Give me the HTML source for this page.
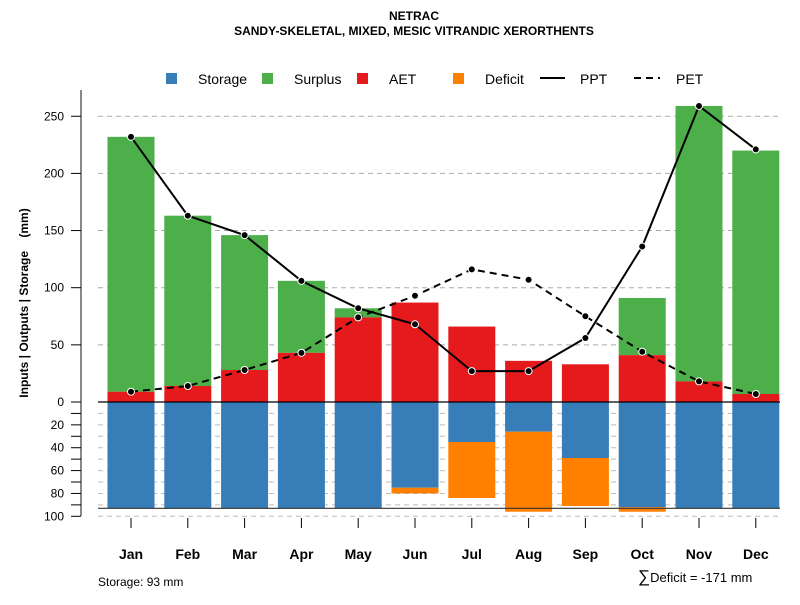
<!DOCTYPE html>
<html><head><meta charset="utf-8"><style>
body{margin:0;background:#fff;font-family:"Liberation Sans",sans-serif}
svg text{font-family:"Liberation Sans",sans-serif}
</style></head><body>
<svg id="chart" width="800" height="600" xmlns="http://www.w3.org/2000/svg">
<text x="414" y="20" text-anchor="middle" font-size="12" font-weight="bold">NETRAC</text>
<text x="414" y="35" text-anchor="middle" font-size="12" font-weight="bold">SANDY-SKELETAL, MIXED, MESIC VITRANDIC XERORTHENTS</text>
<g id="grid"></g><g id="bars"></g><g id="lines"></g><g id="axes"></g>
<g font-size="14">
<rect x="166" y="73" width="11" height="11" fill="#377eb8"/><text x="198" y="84">Storage</text>
<rect x="262" y="73" width="11" height="11" fill="#4daf4a"/><text x="294" y="84">Surplus</text>
<rect x="357" y="73" width="11" height="11" fill="#e41a1c"/><text x="389" y="84">AET</text>
<rect x="453" y="73" width="11" height="11" fill="#ff7f00"/><text x="485" y="84">Deficit</text>
<line x1="540" y1="78" x2="565" y2="78" stroke="#000" stroke-width="2"/><text x="580" y="84">PPT</text>
<line x1="634" y1="78" x2="660" y2="78" stroke="#000" stroke-width="2" stroke-dasharray="7,5"/><text x="676" y="84">PET</text>
</g>
<text transform="translate(28,303) rotate(-90)" text-anchor="middle" font-size="12" font-weight="bold" xml:space="preserve">Inputs | Outputs | Storage    (mm)</text>
<text x="98" y="586" font-size="12">Storage: 93 mm</text>
<text x="638" y="582" font-size="13"><tspan font-size="17">∑</tspan>Deficit = -171 mm</text>
</svg>
<script>
const months=["Jan","Feb","Mar","Apr","May","Jun","Jul","Aug","Sep","Oct","Nov","Dec"];
const ppt=[232,163,146,106,82,68,27,27,56,136,259,221];
const pet=[9,14,28,43,74,93,116,107,75,44,18,7];
const aet=[9,14,28,43,74,87,66,36,33,41,18,7];
const surplus=[223,149,118,63,8,0,0,0,0,50,241,213];
const storage=[93,93,93,93,93,75,35,26,49,92,93,93];
const deficit=[0,0,0,0,0,5,49,70,42,4,0,0];
const topTicks=[0,50,100,150,200,250];
const bottomTicks=[20,40,60,80,100];
const maxStorage=93;
const NS="http://www.w3.org/2000/svg";
const y0=402,k=1.143;
function yUp(v){return y0-v*k}
function yDn(v){return y0+v*k}
function xC(i){return 131+i*56.8}
const bw=47;
function mk(tag,attrs,parent){const e=document.createElementNS(NS,tag);for(const a in attrs)e.setAttribute(a,attrs[a]);document.getElementById(parent).appendChild(e);return e}
topTicks.forEach(t=>{if(t>0){const l=mk('line',{x1:98,x2:780,y1:yUp(t),y2:yUp(t),stroke:'#aaa','stroke-dasharray':'5,4'},'grid');

}});
for(let t=10;t<=100;t+=10){const l=mk('line',{x1:98,x2:780,y1:yDn(t),y2:yDn(t),stroke:'#bbb','stroke-dasharray':'5,4'},'grid');

}
months.forEach((m,i)=>{
 const x=xC(i)-bw/2;
 if(surplus[i]>0){const r=mk('rect',{x:x,width:bw,y:yUp(aet[i]+surplus[i]),height:surplus[i]*k,fill:'#4daf4a'},'bars');
 
 }
 const a=mk('rect',{x:x,width:bw,y:yUp(aet[i]),height:aet[i]*k,fill:'#e41a1c'},'bars');
 
 
 const s=mk('rect',{x:x,width:bw,y:y0,height:storage[i]*k,fill:'#377eb8'},'bars');
 
 
 if(deficit[i]>0){const d=mk('rect',{x:x,width:bw,y:yDn(storage[i]),height:deficit[i]*k,fill:'#ff7f00'},'bars');
 
 }
});
const zl=mk('line',{x1:98,x2:780,y1:y0,y2:y0,stroke:'#000','stroke-width':1.2},'bars');


const ml=mk('line',{x1:98,x2:780,y1:yDn(maxStorage),y2:yDn(maxStorage),stroke:'#333','stroke-width':1.2},'bars');


function series(vals,name,dash){
 const p=mk('polyline',{points:vals.map((v,i)=>xC(i)+','+yUp(v)).join(' '),fill:'none',stroke:'#000','stroke-width':2,'stroke-dasharray':dash},'lines');
 
 
 vals.forEach((v,i)=>{const c=mk('circle',{cx:xC(i),cy:yUp(v),r:3.5,fill:'#000',stroke:'#fff','stroke-width':1},'lines');
 
 });
}
series(pet,'pet','7,5');
series(ppt,'ppt','none');
const ax=mk('line',{x1:81,x2:81,y1:90,y2:516,stroke:'#888','stroke-width':2},'axes');


topTicks.forEach(t=>{mk('line',{x1:71,x2:81,y1:yUp(t),y2:yUp(t),stroke:'#000'},'axes');
 const tx=mk('text',{x:64,y:yUp(t)+4,'text-anchor':'end','font-size':12},'axes');tx.textContent=t;
 
 });
for(let t=10;t<=100;t+=10)mk('line',{x1:71,x2:81,y1:yDn(t),y2:yDn(t),stroke:'#000'},'axes');
bottomTicks.forEach(t=>{const tx=mk('text',{x:64,y:yDn(t)+4,'text-anchor':'end','font-size':12},'axes');tx.textContent=t;
 
 });
months.forEach((m,i)=>{mk('line',{x1:xC(i),x2:xC(i),y1:518,y2:528,stroke:'#000'},'axes');
 const tx=mk('text',{x:xC(i),y:559,'text-anchor':'middle','font-size':14,'font-weight':'bold'},'axes');tx.textContent=m;
 
 });
</script>
</body></html>
